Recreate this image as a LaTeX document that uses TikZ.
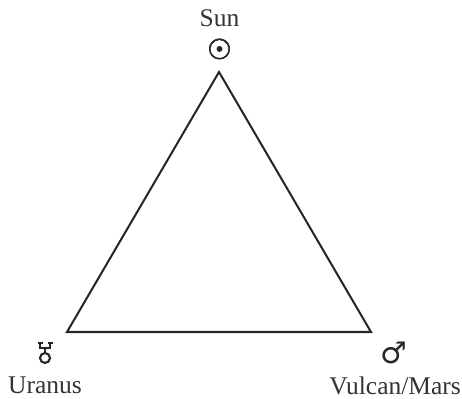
\documentclass[tikz,border=0pt]{standalone}
\usepackage{fontspec}
\setmainfont{Liberation Serif}
\newfontfamily\symfont{DejaVu Sans}
\newfontfamily\sunfont[FakeBold=2]{DejaVu Sans}
\tikzset{
  planet/.style={inner sep=0pt, font=\fontsize{14.5}{16}\selectfont, text=black!80},
  glyph/.style={inner sep=0pt, text=black!85},
  glyphline/.style={line width=1.2pt, color=black!85}
}
\begin{document}
\begin{tikzpicture}
\useasboundingbox (0,0) rectangle (9.24,7.98);
\node[planet] (sun) at (4.39,7.62) {Sun};
\node[glyph, font=\sunfont\fontsize{16}{18}\selectfont] (sunsym) at (4.39,7.00) {☉};
\node[planet] (uranus) at (0.90,0.27) {Uranus};
\node[glyph, font=\symfont\fontsize{17}{18}\selectfont] (marssym) at (7.87,0.93) {♂};
\node[planet] (mars) at (7.90,0.27) {Vulcan/Mars};
\coordinate (a) at (4.38,6.54);
\coordinate (b) at (1.34,1.34);
\coordinate (c) at (7.42,1.34);
\coordinate (u) at (0.90,0.82);
\draw[line width=1.15pt, color=black!85, line join=miter] (a) -- (b) -- (c) -- cycle;
% uranus sign
\draw[glyphline] (u) circle (0.10);
\draw[glyphline] (0.90,0.92) -- (0.90,1.02);
\draw[glyphline] (0.78,1.02) -- (1.02,1.02);
\draw[glyphline] (0.75,1.12) -- (0.85,1.12) (0.95,1.12) -- (1.05,1.12);
\draw[glyphline] (0.80,1.12) -- (0.80,1.02) (1.00,1.12) -- (1.00,1.02);
\end{tikzpicture}
\end{document}
